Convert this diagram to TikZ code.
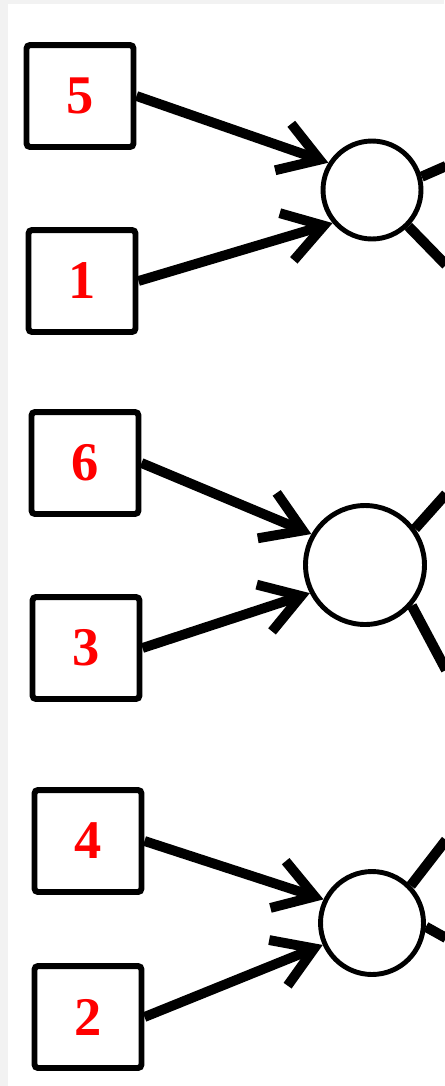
\documentclass[tikz,border=0pt]{standalone}
\usepackage{fontspec}
\setmainfont{Liberation Serif}
\usetikzlibrary{arrows.meta}

\tikzset{
  box/.style={draw, line width=3.4pt, rounded corners=2pt, minimum width=2.14cm,
    minimum height=2.04cm, font=\fontsize{31}{31}\selectfont\bfseries, text=red},
  joint/.style={draw, circle, line width=2.8pt, fill=white},
  feed/.style={line width=5.6pt, -{Straight Barb[length=22pt,width=28pt]}},
  lead/.style={line width=5.8pt},
}

\begin{document}
\begin{tikzpicture}[x=0.02cm, y=-0.02cm]
    % The page and its grey rim
    \useasboundingbox (0, 0) rectangle (444, 1086);
    \fill[black!5] (0, 0) rectangle (444, 1086);
    \fill[white] (8, 4) rectangle (444, 1086);

    % The numbered boxes
    \node[box] (b5) at (80, 96) {5};
    \node[box] (b1) at (82, 281) {1};
    \node[box] (b6) at (85, 463) {6};
    \node[box] (b3) at (86, 648) {3};
    \node[box] (b4) at (88, 841) {4};
    \node[box] (b2) at (88, 1017) {2};

    % The joints
    \node[joint, minimum size=1.96cm] (j1) at (372, 190) {};
    \node[joint, minimum size=2.38cm] (j2) at (365, 565) {};
    \node[joint, minimum size=2.06cm] (j3) at (372, 923) {};

    % Free ends at the right edge
    \coordinate (o1) at (446, 166);
    \coordinate (o2) at (446, 265);
    \coordinate (o3) at (446, 494);
    \coordinate (o4) at (446, 670);
    \coordinate (o5) at (446, 840);
    \coordinate (o6) at (446, 938);

    % Arrows into the joints
    \draw[feed] (b5.east) -- (j1.148);
    \draw[feed] (b1.east) -- (j1.220);
    \draw[feed] (b6.east) -- (j2.150);
    \draw[feed] (b3.east) -- (j2.207);
    \draw[feed] (b4.east) -- (j3.154);
    \draw[feed] (b2.east) -- (j3.204);

    % Lines leaving the joints
    \draw[lead] (j1.15) -- (o1);
    \draw[lead] (j1.-45) -- (o2);
    \draw[lead] (j2.36) -- (o3);
    \draw[lead] (j2.-41) -- (o4);
    \draw[lead] (j3.44) -- (o5);
    \draw[lead] (j3.-4) -- (o6);
\end{tikzpicture}
\end{document}
